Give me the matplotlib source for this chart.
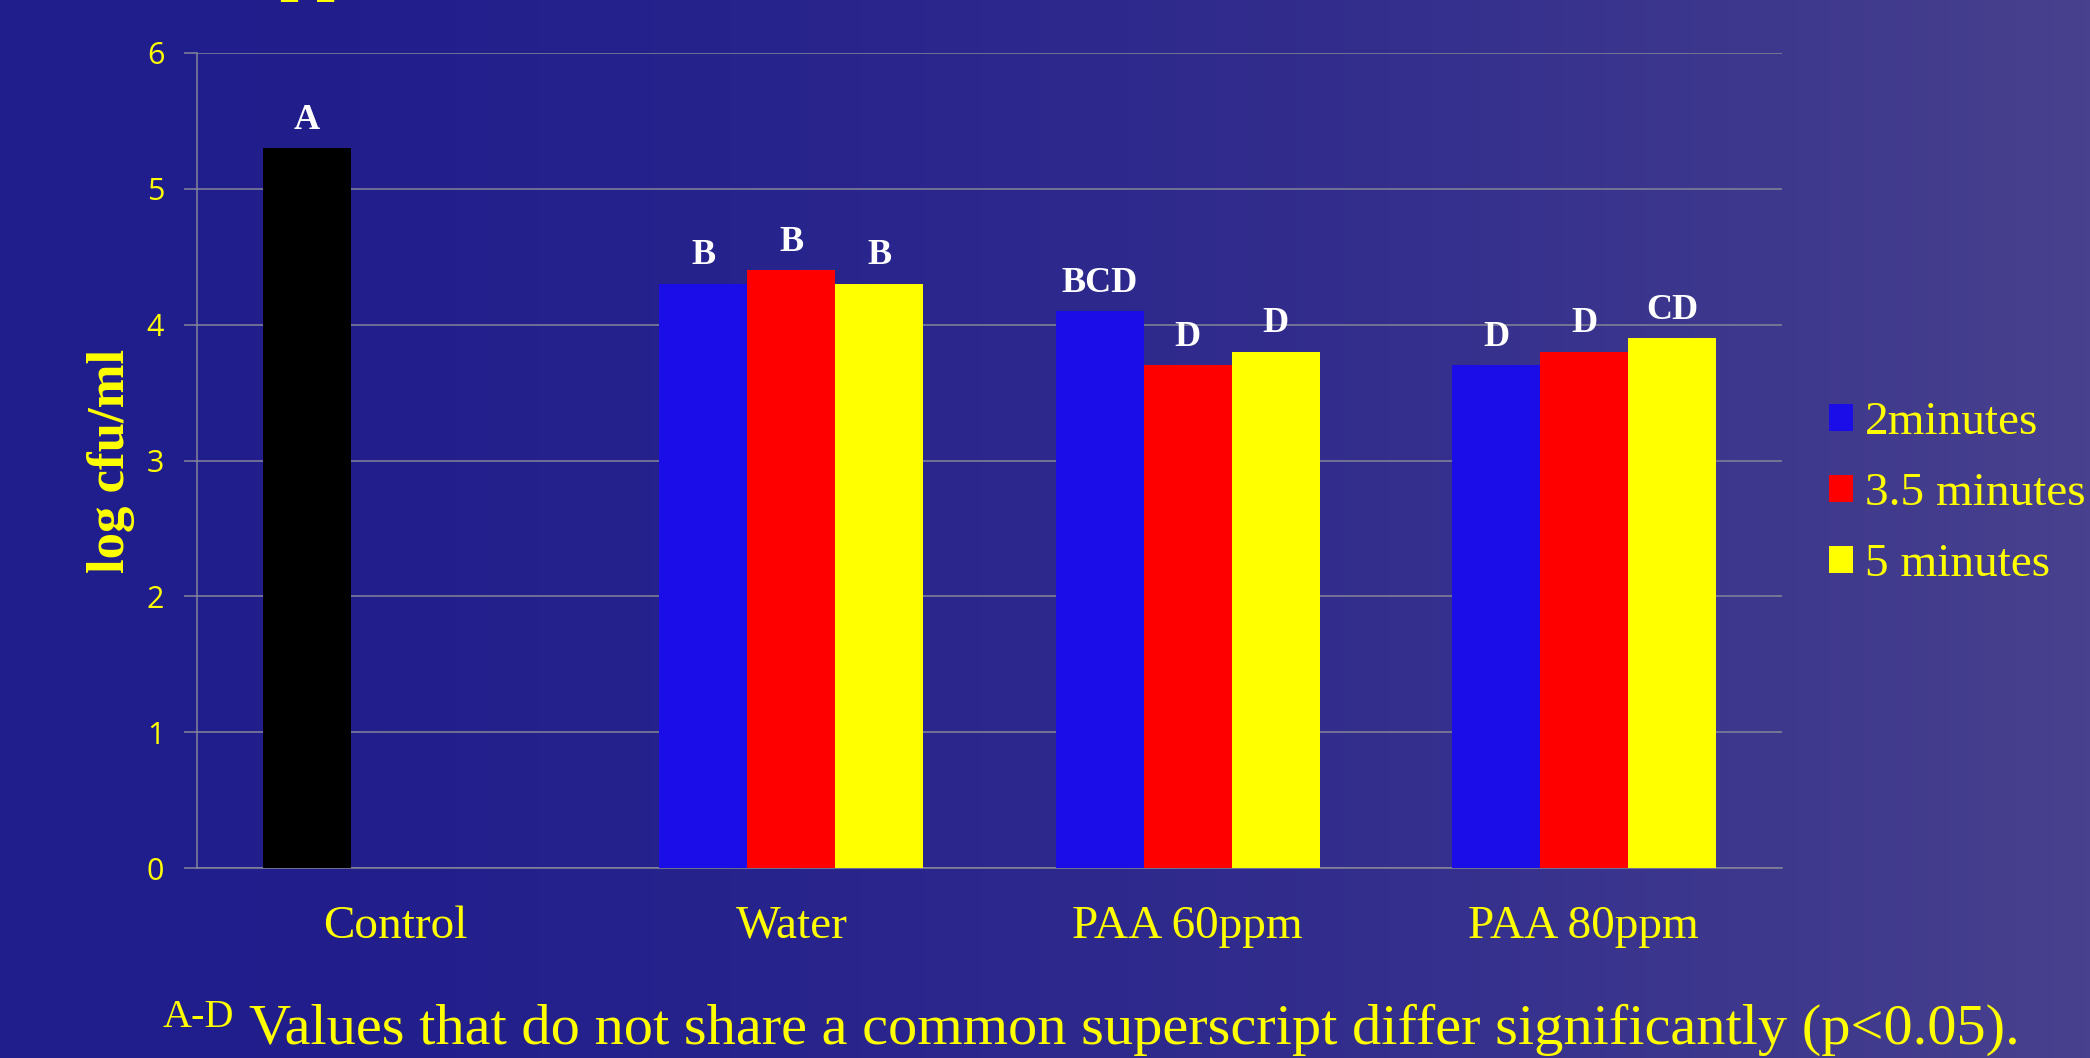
import numpy as np
import matplotlib
matplotlib.use("Agg")
import matplotlib.pyplot as plt
from matplotlib.patches import Patch

# ---- data ----
categories = ["Control", "Water", "PAA 60ppm", "PAA 80ppm"]
series_names = ["2minutes", "3.5 minutes", "5 minutes"]
vals_2min = [5.3, 4.3, 4.1, 3.7]
vals_35min = [np.nan, 4.4, 3.7, 3.8]
vals_5min = [np.nan, 4.3, 3.8, 3.9]
letters_2min = ["A", "B", "BCD", "D"]
letters_35min = ["", "B", "D", "D"]
letters_5min = ["", "B", "D", "CD"]
yticks = [0, 1, 2, 3, 4, 5, 6]
ylabel = "log cfu/ml"
footnote_sup = "A-D"
footnote = "Values that do not share a common superscript differ significantly (p<0.05)."

YEL = "#FFFF00"
GRID = "#858597"
colors = ["#1A0DE8", "#FF0000", "#FFFF00"]
control_color = "#000000"

W, H = 2090, 1058
fig = plt.figure(figsize=(W / 100, H / 100), dpi=100)

# background gradient
bg = fig.add_axes([0, 0, 1, 1], zorder=-10)
t = np.linspace(0, 1, 400)
tt = t ** 1.7
c0 = np.array([32, 29, 140]) / 255
c1 = np.array([72, 65, 142]) / 255
grad = (c0[None, :] * (1 - tt[:, None]) + c1[None, :] * tt[:, None])[None, :, :]
grad = np.repeat(grad, 2, axis=0)
bg.imshow(grad, aspect="auto", extent=[0, 1, 0, 1])
bg.set_axis_off()

ax = fig.add_axes([197 / W, 1 - 868 / H, (1782 - 197) / W, (868 - 53) / H])
ax.patch.set_alpha(0)

x = np.arange(len(categories))
bw = 0.222
series = [vals_2min, vals_35min, vals_5min]
letters = [letters_2min, letters_35min, letters_5min]
for i, (vals, labs) in enumerate(zip(series, letters)):
    cols = [colors[i]] * len(vals)
    if i == 0:
        cols[0] = control_color
    pos = x + (i - 1) * bw
    bars = ax.bar(pos, vals, width=bw, color=cols, edgecolor="none", zorder=3)
    for b, lab in zip(bars, labs):
        if lab:
            ax.annotate(lab, (b.get_x() + b.get_width() / 2, b.get_height()),
                        xytext=(0, 14), textcoords="offset points",
                        ha="center", va="baseline", color="white",
                        fontsize=26, fontweight="bold", family="Liberation Serif",
                        zorder=4)

ax.set_xlim(-0.5, len(categories) - 0.5)
ax.set_ylim(0, 6)
ax.set_yticks(yticks)
ax.set_xticks(x)
ax.set_xticklabels(categories, family="Liberation Serif", fontsize=34, color=YEL)
for lab in ax.get_yticklabels():
    lab.set_family("Open Sans")
    lab.set_fontsize(22)
    lab.set_color(YEL)
ax.tick_params(axis="x", length=0, pad=27)
ax.tick_params(axis="y", length=9.5, width=1.1, color=GRID, pad=14)
ax.grid(axis="y", color=GRID, linewidth=1.1, zorder=0)
ax.set_axisbelow(True)
for s in ["top", "right"]:
    ax.spines[s].set_visible(False)
for s in ["left", "bottom"]:
    ax.spines[s].set_color(GRID)
    ax.spines[s].set_linewidth(1.1)

ax.set_ylabel(ylabel, family="Liberation Serif", fontweight="bold", fontsize=38, color=YEL)
ax.yaxis.set_label_coords(-0.039, 0.5)

handles = [Patch(facecolor=c, edgecolor="none") for c in colors]
fig.legend(handles, series_names, loc="center left",
           bbox_to_anchor=(1829 / W, 1 - 494 / H), frameon=False,
           prop={"family": "Liberation Serif", "size": 34}, labelcolor=YEL,
           handlelength=0.51, handleheight=0.51, handletextpad=0.25,
           labelspacing=0.6, borderpad=0, borderaxespad=0)

# cut-off title fragment at the very top
fig.text(279 / W, 1 + 12 / H, "pp", family="Liberation Serif", fontweight="bold",
         fontsize=48, color=YEL, ha="left", va="baseline")

fig.text(163 / W, 1 - 1027 / H, footnote_sup, family="Liberation Serif",
         fontsize=29, color=YEL, ha="left", va="baseline")
fig.text(249 / W, 1 - 1044 / H, footnote, family="Liberation Serif",
         fontsize=42, color=YEL, ha="left", va="baseline")

fig.savefig("out.png", dpi=100)
